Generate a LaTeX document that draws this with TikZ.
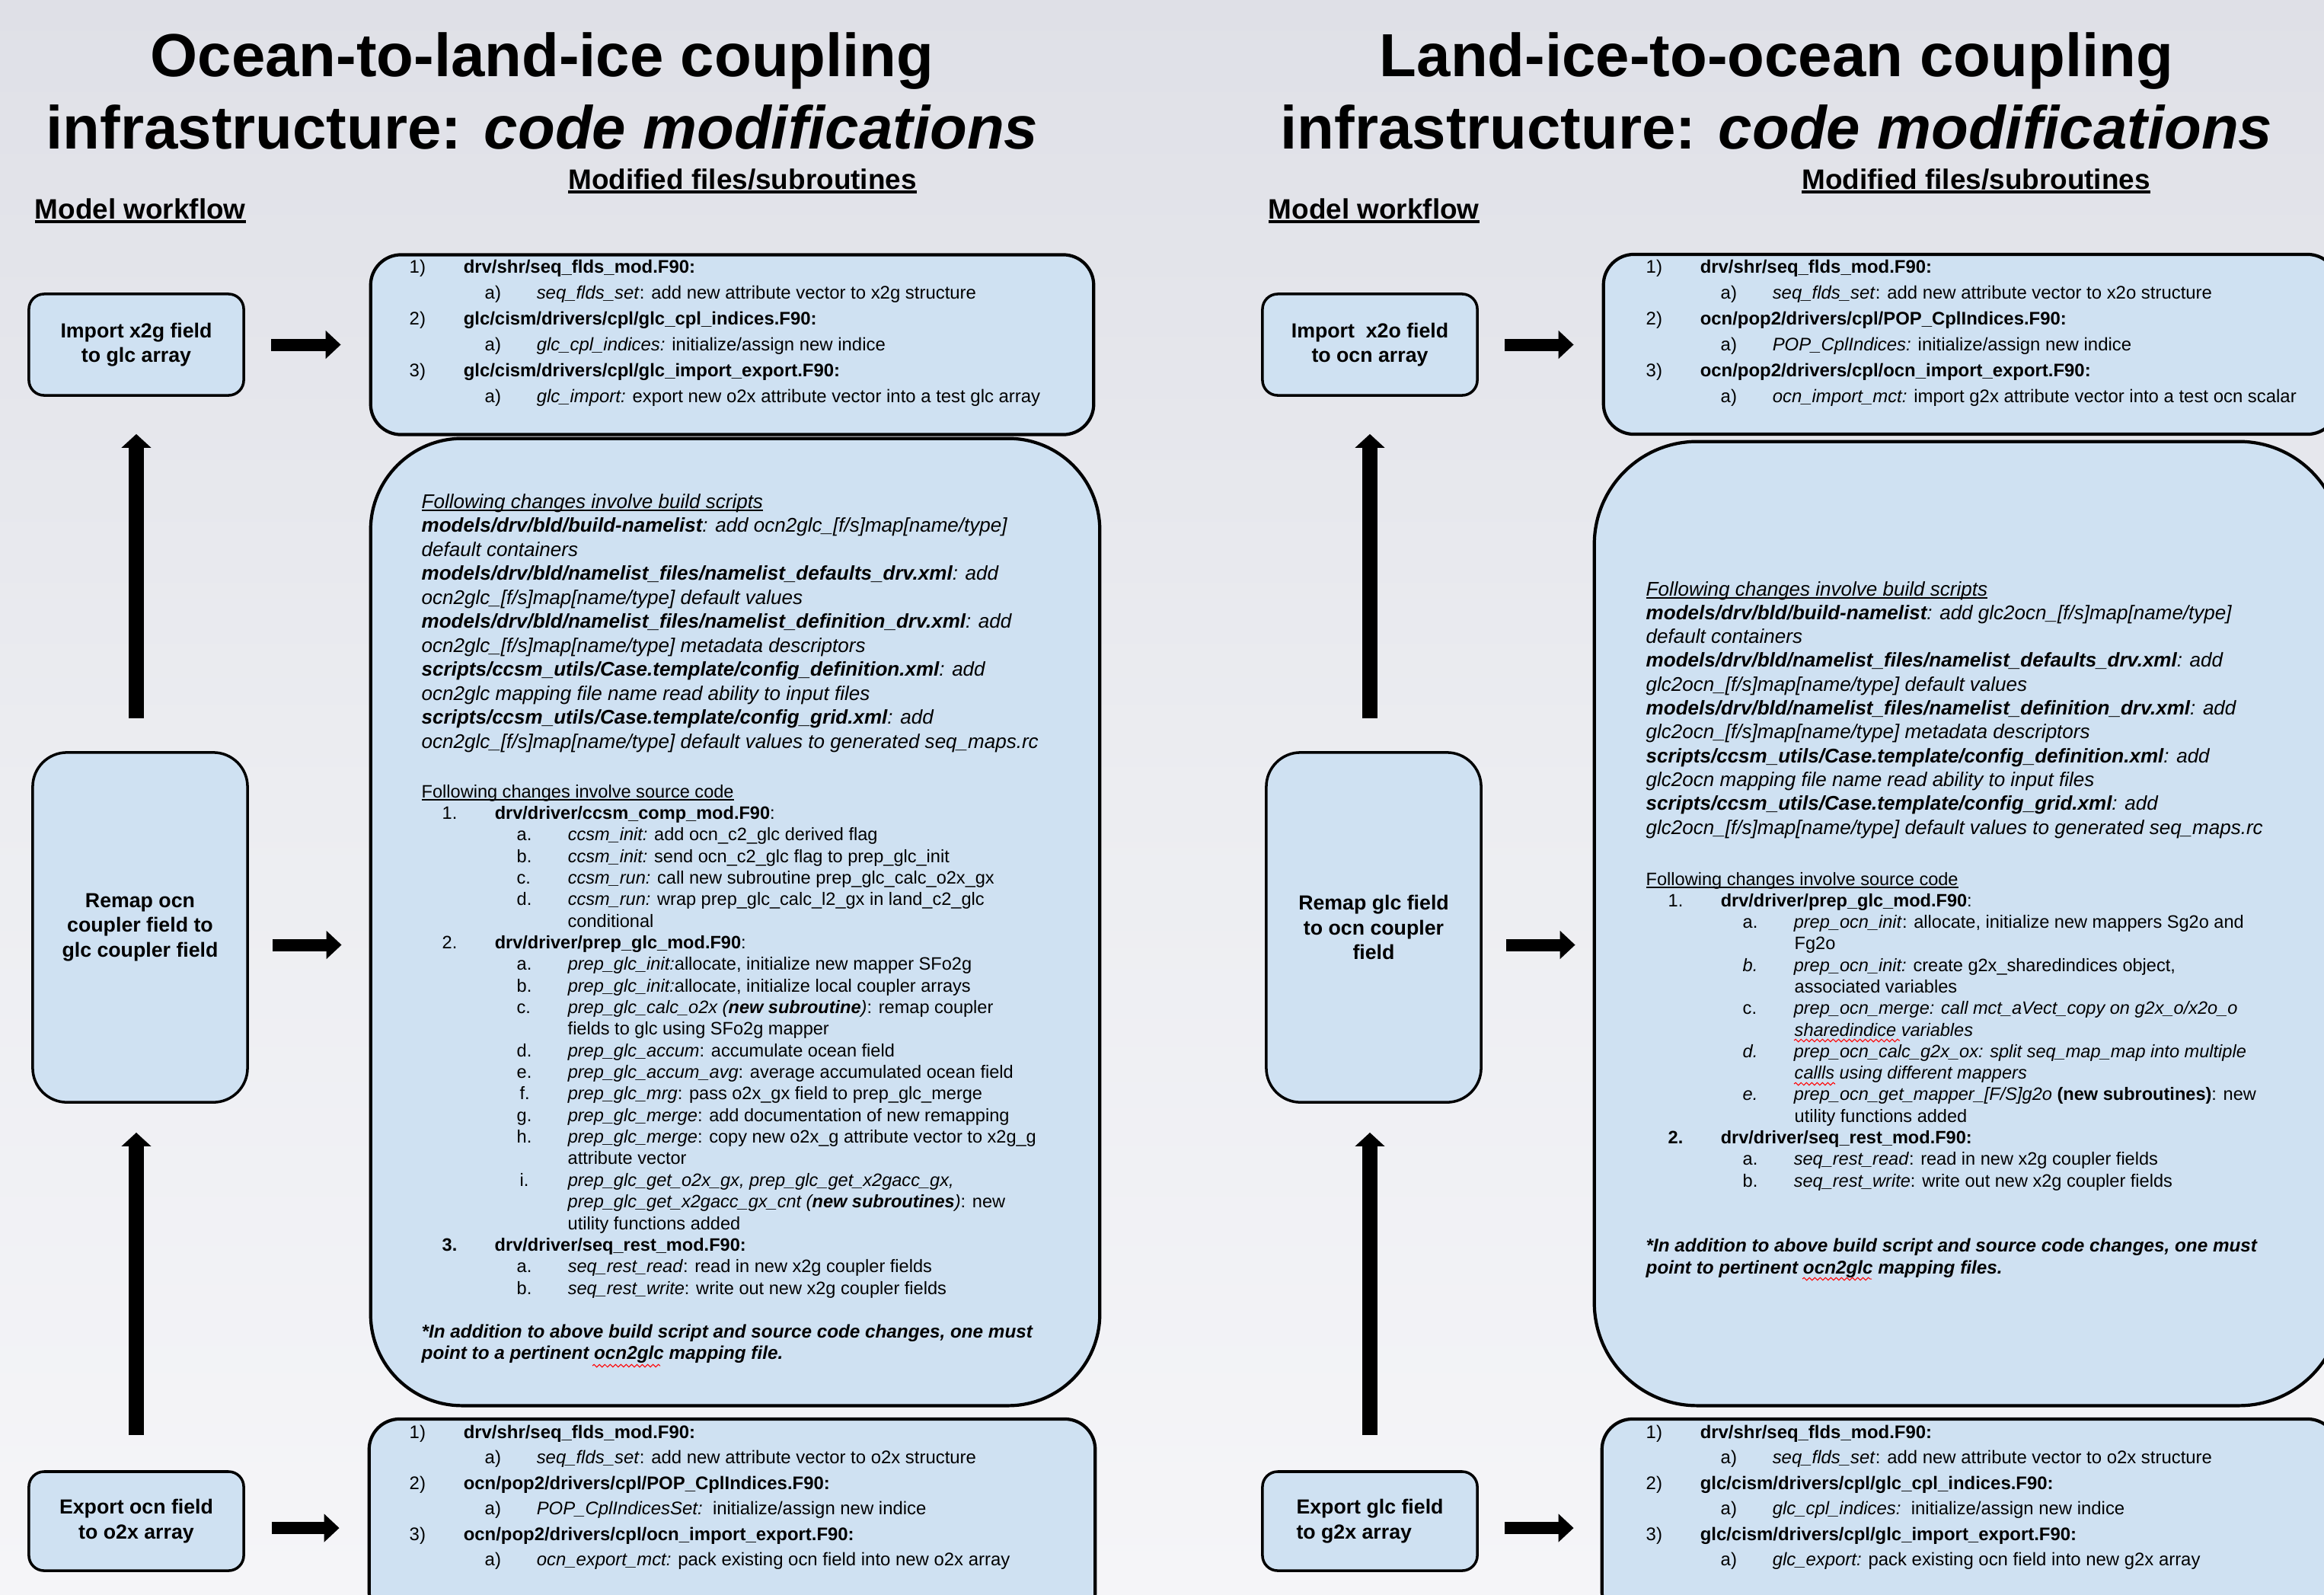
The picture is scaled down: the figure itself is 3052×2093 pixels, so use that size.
\documentclass[tikz,border=0pt]{standalone}
\usepackage{fontspec}
\setmainfont{Liberation Sans}
\usetikzlibrary{arrows.meta,calc,decorations.pathmorphing}
\definecolor{boxfill}{RGB}{207,225,242}
\definecolor{bgtop}{RGB}{223,224,231}
\definecolor{bgmid}{RGB}{236,237,241}
\definecolor{bgbot}{RGB}{245,245,248}
\newcounter{tl}
\newcommand\TL[3]{\stepcounter{tl}\node[#1] (tl\arabic{tl}) at (#2) {#3};}
\newcommand\Nm[1]{\makebox[0.71cm][l]{#1}}
\newcommand\Lt[1]{\makebox[0.68cm][l]{#1}}
\newcommand\Ns[1]{\makebox[0.69cm][l]{#1}}
\newcommand\Ls[1]{\makebox[0.67cm][l]{#1}}
\newcommand\UL[3]{\setbox0\hbox{#3}\rlap{\rule[-#1]{\wd0}{#2}}\box0}
\tikzset{
  tA/.style={anchor=base west, inner sep=0pt, font=\fontsize{6.8}{8}\selectfont},
  tB/.style={anchor=base west, inner sep=0pt, font=\fontsize{7.4}{9}\selectfont\itshape},
  tC/.style={anchor=base west, inner sep=0pt, font=\fontsize{6.7}{8}\selectfont},
  tN/.style={anchor=base west, inner sep=0pt, font=\fontsize{6.9}{8}\selectfont\bfseries\itshape},
  ttl/.style={anchor=base, inner sep=0pt, font=\fontsize{22.7}{26}\selectfont\bfseries},
  hdr/.style={inner sep=0pt, font=\fontsize{10.5}{12}\selectfont\bfseries},
  wf/.style={draw=black, line width=1pt, fill=boxfill, rounded corners=0.2cm, align=center,
    font=\fontsize{7.6}{9.2}\selectfont\bfseries, inner sep=0pt, minimum width=2.82cm},
  fbox/.style={draw=black, line width=1.2pt, fill=boxfill, inner sep=0pt},
  harrow/.style={line width=0.16cm, -{Triangle[width=0.36cm,length=0.2cm]}},
  varrow/.style={line width=0.2cm, -{Triangle[width=0.38cm,length=0.18cm]}},
  squig/.style={red, line width=0.3pt, decorate, decoration={snake, amplitude=0.5pt, segment length=2pt}}
}
\begin{document}
\begin{tikzpicture}[x=0.01cm,y=-0.01cm]
\useasboundingbox (0,0) rectangle (3052,2093);
\clip (0,0) rectangle (3052,2093);
\shade[top color=bgtop, bottom color=bgbot, middle color=bgmid] (0,0) rectangle (3052,2093);

% ---------- titles ----------
\node[ttl] (t1L) at (712,100) {Ocean-to-land-ice coupling};
\node[ttl] (t2L) at (712,195) {infrastructure: \textit{code modifications}};
\node[ttl] (t1R) at (2333,100) {Land-ice-to-ocean coupling};
\node[ttl] (t2R) at (2333,195) {infrastructure: \textit{code modifications}};
\node[hdr, anchor=base] (mfL) at (975,248) {\UL{1.6pt}{0.9pt}{Modified files/subroutines}};
\node[hdr, anchor=base west] (mwL) at (45,287) {\UL{1.6pt}{0.9pt}{Model workflow}};
\node[hdr, anchor=base] (mfR) at (2595,248) {\UL{1.6pt}{0.9pt}{Modified files/subroutines}};
\node[hdr, anchor=base west] (mwR) at (1665,287) {\UL{1.6pt}{0.9pt}{Model workflow}};

% ---------- left workflow ----------
\node[wf, minimum height=1.33cm] (impL) at (179,452.5) {Import x2g field\\to glc array};
\node[wf, minimum height=4.59cm, rounded corners=0.45cm] (remL) at (184,1217.5) {Remap ocn\\coupler field to\\glc coupler field};
\node[wf, minimum height=1.30cm] (expL) at (179,1997) {Export ocn field\\to o2x array};

% ---------- right workflow ----------
\node[wf, minimum height=1.33cm] (impR) at (1799,452.5) {Import~ x2o field\\to ocn array};
\node[wf, minimum height=4.59cm, rounded corners=0.45cm] (remR) at (1804,1217.5) {Remap glc field\\to ocn coupler\\field};
\node[wf, minimum height=1.30cm, align=left] (expR) at (1799,1997) {Export glc field\\to g2x array};

% ---------- file boxes ----------
\node[fbox, rounded corners=0.4cm, minimum width=9.49cm, minimum height=2.36cm] (topL) at (961.5,452.5) {};
\node[fbox, rounded corners=1.2cm, minimum width=9.57cm, minimum height=12.69cm] (midL) at (965.5,1210.5) {};
\node[fbox, rounded corners=0.4cm, minimum width=9.53cm, minimum height=2.67cm] (botL) at (961.5,1996.5) {};
\node[fbox, rounded corners=0.4cm, minimum width=9.64cm, minimum height=2.36cm] (topR) at (2588,452) {};
\node[fbox, rounded corners=1.35cm, minimum width=9.81cm, minimum height=12.65cm] (midR) at (2584.5,1212.5) {};
\node[fbox, rounded corners=0.4cm, minimum width=9.66cm, minimum height=2.67cm] (botR) at (2587,1996.5) {};

% ---------- arrows left ----------
\draw[varrow, shorten <=0.43cm, shorten >=0.49cm] (impL.south |- remL.north) -- (impL.south);
\draw[varrow, shorten <=0.46cm, shorten >=0.38cm] (expL.north) -- (expL.north |- remL.south);
\draw[harrow, shorten <=0.34cm, shorten >=0.37cm] (impL.east) -- (impL.east -| topL.west);
\coordinate (rmL) at ($(remL.east)+(0,23)$);
\draw[harrow, shorten <=0.31cm, shorten >=0.36cm] (rmL) -- (rmL -| midL.west);
\coordinate (emL) at ($(expL.east)+(0,9)$);
\draw[harrow, shorten <=0.35cm, shorten >=0.37cm] (emL) -- (emL -| botL.west);

% ---------- arrows right ----------
\draw[varrow, shorten <=0.43cm, shorten >=0.49cm] (impR.south |- remR.north) -- (impR.south);
\draw[varrow, shorten <=0.46cm, shorten >=0.38cm] (expR.north) -- (expR.north |- remR.south);
\draw[harrow, shorten <=0.34cm, shorten >=0.37cm] (impR.east) -- (impR.east -| topR.west);
\coordinate (rmR) at ($(remR.east)+(0,23)$);
\draw[harrow, shorten <=0.31cm, shorten >=0.23cm] (rmR) -- (rmR -| midR.west);
\coordinate (emR) at ($(expR.east)+(0,9)$);
\draw[harrow, shorten <=0.34cm, shorten >=0.35cm] (emR) -- (emR -| botR.west);

% ---------- left top box text ----------
\TL{tA}{537,358}{\Nm{1)}\textbf{drv/shr/seq\_flds\_mod.F90:}}
\TL{tA}{636,392}{\Lt{a)}\textit{seq\_flds\_set}: add new attribute vector to x2g structure}
\TL{tA}{537,426}{\Nm{2)}\textbf{glc/cism/drivers/cpl/glc\_cpl\_indices.F90:}}
\TL{tA}{636,460}{\Lt{a)}\textit{glc\_cpl\_indices:} initialize/assign new indice}
\TL{tA}{537,494}{\Nm{3)}\textbf{glc/cism/drivers/cpl/glc\_import\_export.F90:}}
\TL{tA}{636,528}{\Lt{a)}\textit{glc\_import:} export new o2x attribute vector into a test glc array}

% ---------- left bottom box text ----------
\TL{tA}{537,1888}{\Nm{1)}\textbf{drv/shr/seq\_flds\_mod.F90:}}
\TL{tA}{636,1921.5}{\Lt{a)}\textit{seq\_flds\_set}: add new attribute vector to o2x structure}
\TL{tA}{537,1955}{\Nm{2)}\textbf{ocn/pop2/drivers/cpl/POP\_CplIndices.F90:}}
\TL{tA}{636,1988.5}{\Lt{a)}\textit{POP\_CplIndicesSet:}\ \ initialize/assign new indice}
\TL{tA}{537,2022}{\Nm{3)}\textbf{ocn/pop2/drivers/cpl/ocn\_import\_export.F90:}}
\TL{tA}{636,2055.5}{\Lt{a)}\textit{ocn\_export\_mct:} pack existing ocn field into new o2x array}

% ---------- left middle: build scripts ----------
\TL{tB}{553,667}{\UL{1.1pt}{0.45pt}{Following changes involve build scripts}}
\TL{tB}{553,698.5}{\textbf{models/drv/bld/build-namelist}: add ocn2glc\_[f/s]map[name/type]}
\TL{tB}{553,730}{default containers}
\TL{tB}{553,761.5}{\textbf{models/drv/bld/namelist\_files/namelist\_defaults\_drv.xml}: add}
\TL{tB}{553,793}{ocn2glc\_[f/s]map[name/type] default values}
\TL{tB}{553,824.5}{\textbf{models/drv/bld/namelist\_files/namelist\_definition\_drv.xml}: add}
\TL{tB}{553,856}{ocn2glc\_[f/s]map[name/type] metadata descriptors}
\TL{tB}{553,887.5}{\textbf{scripts/ccsm\_utils/Case.template/config\_definition.xml}: add}
\TL{tB}{553,919}{ocn2glc mapping file name read ability to input files}
\TL{tB}{553,950.5}{\textbf{scripts/ccsm\_utils/Case.template/config\_grid.xml}: add}
\TL{tB}{553,982}{ocn2glc\_[f/s]map[name/type] default values to generated seq\_maps.rc}

% ---------- left middle: source code ----------
\TL{tC}{553,1047}{\UL{1pt}{0.45pt}{Following changes involve source code}}
\TL{tC}{580,1075.35}{\Ns{1.}\textbf{drv/driver/ccsm\_comp\_mod.F90}:}
\TL{tC}{678,1103.7}{\Ls{a.}\textit{ccsm\_init:} add ocn\_c2\_glc derived flag}
\TL{tC}{678,1132.05}{\Ls{b.}\textit{ccsm\_init:} send ocn\_c2\_glc flag to prep\_glc\_init}
\TL{tC}{678,1160.4}{\Ls{c.}\textit{ccsm\_run:} call new subroutine prep\_glc\_calc\_o2x\_gx}
\TL{tC}{678,1188.75}{\Ls{d.}\textit{ccsm\_run:} wrap prep\_glc\_calc\_l2\_gx in land\_c2\_glc}
\TL{tC}{745,1217.1}{conditional}
\TL{tC}{580,1245.45}{\Ns{2.}\textbf{drv/driver/prep\_glc\_mod.F90}:}
\TL{tC}{678,1273.8}{\Ls{a.}\textit{prep\_glc\_init:}allocate, initialize new mapper SFo2g}
\TL{tC}{678,1302.15}{\Ls{b.}\textit{prep\_glc\_init:}allocate, initialize local coupler arrays}
\TL{tC}{678,1330.5}{\Ls{c.}\textit{prep\_glc\_calc\_o2x (\textbf{new subroutine})}: remap coupler}
\TL{tC}{745,1358.85}{fields to glc using SFo2g mapper}
\TL{tC}{678,1387.2}{\Ls{d.}\textit{prep\_glc\_accum}: accumulate ocean field}
\TL{tC}{678,1415.55}{\Ls{e.}\textit{prep\_glc\_accum\_avg}: average accumulated ocean field}
\TL{tC}{678,1443.9}{\Ls{\,f.}\textit{prep\_glc\_mrg}: pass o2x\_gx field to prep\_glc\_merge}
\TL{tC}{678,1472.25}{\Ls{g.}\textit{prep\_glc\_merge}: add documentation of new remapping}
\TL{tC}{678,1500.6}{\Ls{h.}\textit{prep\_glc\_merge}: copy new o2x\_g attribute vector to x2g\_g}
\TL{tC}{745,1528.95}{attribute vector}
\TL{tC}{678,1557.3}{\Ls{\,i.}\textit{prep\_glc\_get\_o2x\_gx, prep\_glc\_get\_x2gacc\_gx,}}
\TL{tC}{745,1585.65}{\textit{prep\_glc\_get\_x2gacc\_gx\_cnt (\textbf{new subroutines})}: new}
\TL{tC}{745,1614}{utility functions added}
\TL{tC}{580,1642.35}{\Ns{\textbf{3.}}\textbf{drv/driver/seq\_rest\_mod.F90:}}
\TL{tC}{678,1670.7}{\Ls{a.}\textit{seq\_rest\_read}: read in new x2g coupler fields}
\TL{tC}{678,1699.05}{\Ls{b.}\textit{seq\_rest\_write}: write out new x2g coupler fields}
\TL{tN}{553,1756}{*In addition to above build script and source code changes, one must}
\TL{tN}{553,1784}{point to a pertinent ocn2glc mapping file.}
\draw[squig] (778,1793) -- (867,1793);

% ---------- right top box text ----------
\TL{tA}{2161,358}{\Nm{1)}\textbf{drv/shr/seq\_flds\_mod.F90:}}
\TL{tA}{2259,392}{\Lt{a)}\textit{seq\_flds\_set}: add new attribute vector to x2o structure}
\TL{tA}{2161,426}{\Nm{2)}\textbf{ocn/pop2/drivers/cpl/POP\_CplIndices.F90:}}
\TL{tA}{2259,460}{\Lt{a)}\textit{POP\_CplIndices:} initialize/assign new indice}
\TL{tA}{2161,494}{\Nm{3)}\textbf{ocn/pop2/drivers/cpl/ocn\_import\_export.F90:}}
\TL{tA}{2259,528}{\Lt{a)}\textit{ocn\_import\_mct:} import g2x attribute vector into a test ocn scalar}

% ---------- right bottom box text ----------
\TL{tA}{2161,1888}{\Nm{1)}\textbf{drv/shr/seq\_flds\_mod.F90:}}
\TL{tA}{2259,1921.5}{\Lt{a)}\textit{seq\_flds\_set}: add new attribute vector to o2x structure}
\TL{tA}{2161,1955}{\Nm{2)}\textbf{glc/cism/drivers/cpl/glc\_cpl\_indices.F90:}}
\TL{tA}{2259,1988.5}{\Lt{a)}\textit{glc\_cpl\_indices:}\ \ initialize/assign new indice}
\TL{tA}{2161,2022}{\Nm{3)}\textbf{glc/cism/drivers/cpl/glc\_import\_export.F90:}}
\TL{tA}{2259,2055.5}{\Lt{a)}\textit{glc\_export:} pack existing ocn field into new g2x array}

% ---------- right middle: build scripts ----------
\TL{tB}{2161,782}{\UL{1.1pt}{0.45pt}{Following changes involve build scripts}}
\TL{tB}{2161,813.3}{\textbf{models/drv/bld/build-namelist}: add glc2ocn\_[f/s]map[name/type]}
\TL{tB}{2161,844.6}{default containers}
\TL{tB}{2161,875.9}{\textbf{models/drv/bld/namelist\_files/namelist\_defaults\_drv.xml}: add}
\TL{tB}{2161,907.2}{glc2ocn\_[f/s]map[name/type] default values}
\TL{tB}{2161,938.5}{\textbf{models/drv/bld/namelist\_files/namelist\_definition\_drv.xml}: add}
\TL{tB}{2161,969.8}{glc2ocn\_[f/s]map[name/type] metadata descriptors}
\TL{tB}{2161,1001.1}{\textbf{scripts/ccsm\_utils/Case.template/config\_definition.xml}: add}
\TL{tB}{2161,1032.4}{glc2ocn mapping file name read ability to input files}
\TL{tB}{2161,1063.7}{\textbf{scripts/ccsm\_utils/Case.template/config\_grid.xml}: add}
\TL{tB}{2161,1095}{glc2ocn\_[f/s]map[name/type] default values to generated seq\_maps.rc}

% ---------- right middle: source code ----------
\TL{tC}{2161,1162}{\UL{1pt}{0.45pt}{Following changes involve source code}}
\TL{tC}{2190,1190.3}{\Ns{1.}\textbf{drv/driver/prep\_glc\_mod.F90}:}
\TL{tC}{2288,1218.6}{\Ls{a.}\textit{prep\_ocn\_init}: allocate, initialize new mappers Sg2o and}
\TL{tC}{2356,1246.9}{Fg2o}
\TL{tC}{2288,1275.2}{\Ls{\textit{b.}}\textit{prep\_ocn\_init:} create g2x\_sharedindices object,}
\TL{tC}{2356,1303.5}{associated variables}
\TL{tC}{2288,1331.7}{\Ls{c.}\textit{prep\_ocn\_merge: call mct\_aVect\_copy on g2x\_o/x2o\_o}}
\TL{tC}{2356,1360}{\textit{sharedindice variables}}
\TL{tC}{2288,1388.3}{\Ls{\textit{d.}}\textit{prep\_ocn\_calc\_g2x\_ox: split seq\_map\_map into multiple}}
\TL{tC}{2356,1416.6}{\textit{callls using different mappers}}
\TL{tC}{2288,1444.9}{\Ls{\textit{e.}}\textit{prep\_ocn\_get\_mapper\_[F/S]g2o} \textbf{(new subroutines)}: new}
\TL{tC}{2356,1473.2}{utility functions added}
\TL{tC}{2190,1501.5}{\Ns{\textbf{2.}}\textbf{drv/driver/seq\_rest\_mod.F90:}}
\TL{tC}{2288,1529.8}{\Ls{a.}\textit{seq\_rest\_read}: read in new x2g coupler fields}
\TL{tC}{2288,1558.1}{\Ls{b.}\textit{seq\_rest\_write}: write out new x2g coupler fields}
\TL{tN}{2161,1643}{*In addition to above build script and source code changes, one must}
\TL{tN}{2161,1672}{point to pertinent ocn2glc mapping files.}
\draw[squig] (2356,1366) -- (2495,1366);
\draw[squig] (2356,1423) -- (2410,1423);
\draw[squig] (2367,1679) -- (2458,1679);
\end{tikzpicture}
\end{document}
